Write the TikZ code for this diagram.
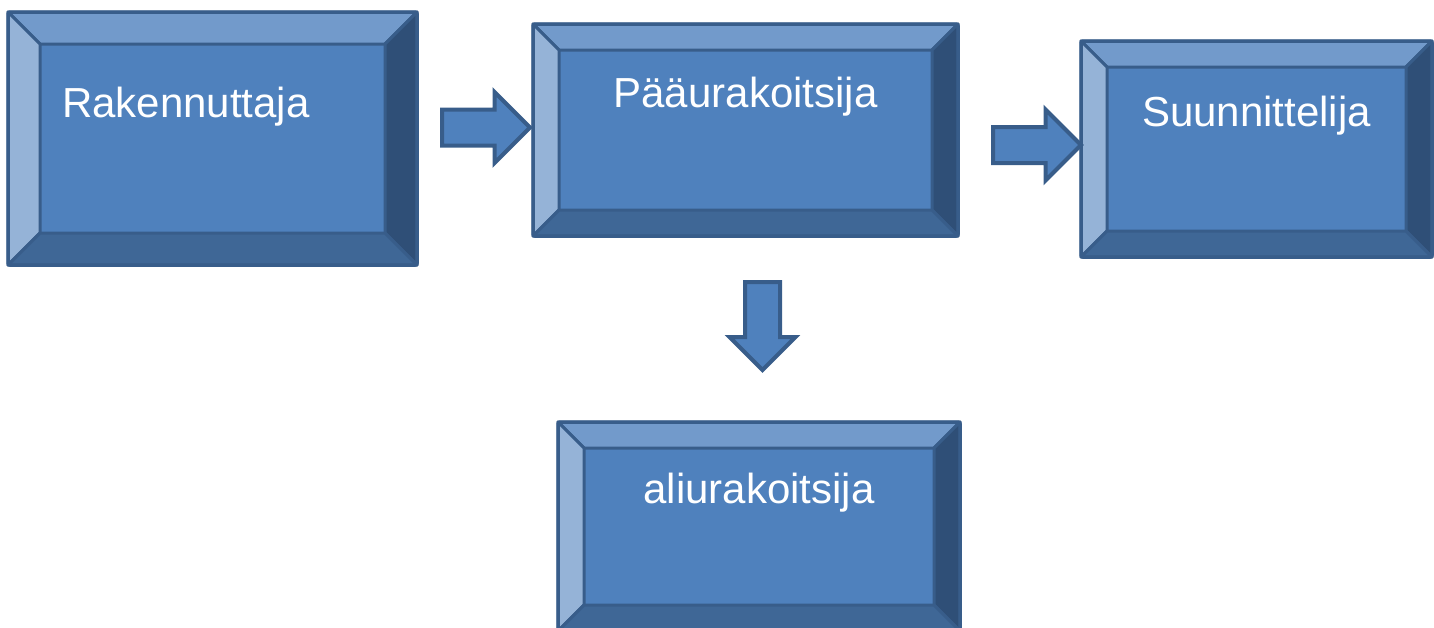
\documentclass[tikz,border=0pt]{standalone}
\usepackage{fontspec}
\setmainfont{Liberation Sans}
\usepackage{tikz}
\usetikzlibrary{calc,shapes.arrows}

\definecolor{faceblue}{HTML}{4F81BD}
\definecolor{edgeblue}{HTML}{385D8A}
\definecolor{bevtop}{HTML}{729ACB}
\definecolor{bevleft}{HTML}{95B3D7}
\definecolor{bevright}{HTML}{2F4F77}
\definecolor{bevbottom}{HTML}{3F6796}

\tikzset{
  box/.style={rectangle,draw=edgeblue,fill=faceblue,line width=3.5pt,inner sep=0pt},
  bevface/.style={draw=edgeblue,line width=3pt,line join=round},
  boxtext/.style={text=white,font=\fontsize{42}{50}\selectfont,inner sep=0pt},
  blockarrow/.style={single arrow,draw=edgeblue,fill=faceblue,line width=4pt,
    inner sep=0pt,text height=32pt,text depth=0pt,anchor=tail,
    single arrow head extend=17.5pt,minimum height=88pt}
}

% bevels round a box node: name, depth
\newcommand{\bevelled}[2]{%
  \coordinate (#1-nw) at ($(#1.north west)+(#2,#2)$);
  \coordinate (#1-ne) at ($(#1.north east)+(-#2,#2)$);
  \coordinate (#1-sw) at ($(#1.south west)+(#2,-#2)$);
  \coordinate (#1-se) at ($(#1.south east)+(-#2,-#2)$);
  \filldraw[bevface,fill=bevtop] (#1.north west) -- (#1.north east) -- (#1-ne) -- (#1-nw) -- cycle;
  \filldraw[bevface,fill=bevleft] (#1.north west) -- (#1-nw) -- (#1-sw) -- (#1.south west) -- cycle;
  \filldraw[bevface,fill=bevright] (#1.north east) -- (#1.south east) -- (#1-se) -- (#1-ne) -- cycle;
  \filldraw[bevface,fill=bevbottom] (#1.south west) -- (#1-sw) -- (#1-se) -- (#1.south east) -- cycle;
  \draw[box,fill=none,rounded corners=2pt] (#1.north west) rectangle (#1.south east);
}

\begin{document}
\begin{tikzpicture}[x=1pt,y=-1pt]
\useasboundingbox (0,0) rectangle (1434,627);
\clip (0,0) rectangle (1434,627);

% boxes
\node[box,minimum width=405.5pt,minimum height=249.5pt] (rak) at (212.5,138.5) {};
\bevelled{rak}{32}
\node[box,minimum width=421.5pt,minimum height=208.5pt] (pu) at (745.5,130) {};
\bevelled{pu}{26}
\node[box,minimum width=347.5pt,minimum height=212.5pt] (suu) at (1256.5,149) {};
\bevelled{suu}{26}
\node[box,minimum width=398.5pt,minimum height=205.5pt] (ali) at (759,526.5) {};
\bevelled{ali}{26}

% texts
\node[boxtext,anchor=base west] (rak-t) at ($(rak.north west)+(54,105)$) {Rakennuttaja};
\node[boxtext,anchor=base] (pu-t) at ($(pu.north)+(0,83)$) {Pääurakoitsija};
\node[boxtext,anchor=base] (suu-t) at ($(suu.north)+(0,85)$) {Suunnittelija};
\node[boxtext,anchor=base] (ali-t) at ($(ali.north)+(0,81)$) {aliurakoitsija};

% arrows
\node[blockarrow] (ar1) at (440,127.5) {};
\node[blockarrow] (ar2) at (991,145) {};
\node[blockarrow,rotate=-90,text height=31pt,single arrow head extend=15.5pt] (ar3) at (762.5,280) {};
\end{tikzpicture}
\end{document}
